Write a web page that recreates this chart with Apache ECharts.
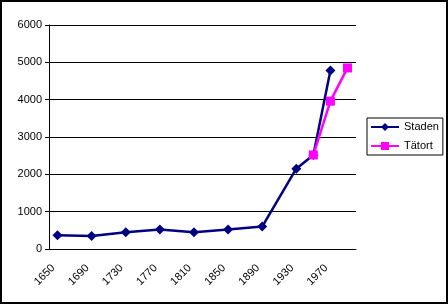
<!DOCTYPE html>
<html><head><meta charset="utf-8">
<script src="https://cdn.jsdelivr.net/npm/echarts@6/dist/echarts.min.js"></script>
<style>html,body{margin:0;padding:0;background:#fff}#c{width:448px;height:304px}</style>
</head><body><div id="c"></div>
<script>
const categories = ['1650','1670','1690','1710','1730','1750','1770','1790','1810','1830','1850','1870','1890','1910','1930','1950','1970','1990'];
const staden = [370,null,350,null,450,null,520,null,450,null,520,null,600,null,2150,2520,4780,null];
const tatort = [null,null,null,null,null,null,null,null,null,null,null,null,null,null,null,2520,3960,4850];
const yTicks = [0,1000,2000,3000,4000,5000,6000];

const font = "'Liberation Sans', Arial, sans-serif";
const chart = echarts.init(document.getElementById('c'));
chart.setOption({
  animation: false,
  backgroundColor: '#fff',
  textStyle: {fontFamily: font},
  graphic: [{type:'rect', shape:{x:1,y:1,width:446,height:302}, style:{fill:'none', stroke:'#000', lineWidth:2}}],
  grid: {left:49, right:92, top:25, bottom:55, containLabel:false},
  legend: {
    orient:'vertical', left:367, top:118,
    borderColor:'#000', borderWidth:1, padding:[3,4,3,3],
    itemWidth:28, itemHeight:10, itemGap:7,
    textStyle:{fontFamily:font, fontSize:11, color:'#000', lineHeight:12},
    data:['Staden','Tätort']
  },
  xAxis: {
    type:'category', data:categories, boundaryGap:true,
    axisLine:{lineStyle:{color:'#000', width:1}},
    axisTick:{interval:0, length:4, lineStyle:{color:'#000'}},
    axisLabel:{interval:1, rotate:45, fontSize:11, color:'#000', fontFamily:font, margin:13, padding:[0,6,0,0]}
  },
  yAxis: {
    type:'value', min:yTicks[0], max:yTicks[yTicks.length-1], interval:1000,
    axisLine:{show:true, lineStyle:{color:'#000', width:1}},
    axisTick:{show:true, length:4, lineStyle:{color:'#000'}},
    axisLabel:{fontSize:11, color:'#000', fontFamily:font, margin:7, formatter: v => String(v)},
    splitLine:{show:true, lineStyle:{color:'#000', width:1}}
  },
  series: [
    {name:'Staden', type:'line', data:staden, connectNulls:true,
     symbol:'diamond', symbolSize:10, showAllSymbol:true,
     lineStyle:{color:'#000080', width:2.5}, itemStyle:{color:'#000080'}},
    {name:'Tätort', type:'line', data:tatort, connectNulls:true,
     symbol:'rect', symbolSize:9, showAllSymbol:true,
     lineStyle:{color:'#FF00FF', width:2.5}, itemStyle:{color:'#FF00FF'}}
  ]
});
</script></body></html>
